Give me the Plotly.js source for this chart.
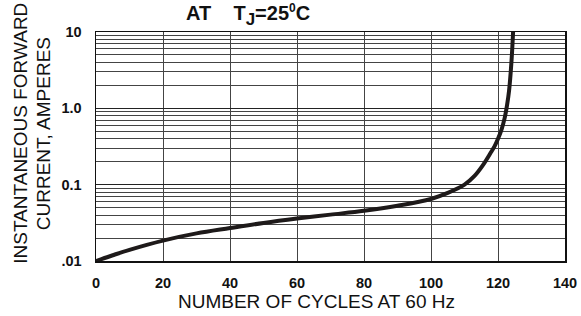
<!DOCTYPE html>
<html>
<head>
<meta charset="utf-8">
<script src="https://cdn.plot.ly/plotly-3.0.1.min.js"></script>
<style>html,body{margin:0;padding:0;background:#fff;}#chart{width:581px;height:316px;}</style>
</head>
<body>
<div id="chart"></div>
<script>
// Data
var cycles  = [0, 5, 10, 20, 30, 40, 50, 60, 70, 80, 90, 100, 105, 110, 113, 115.5, 118, 119, 120, 121, 122, 122.7, 123.3, 123.8, 124.2, 124.5];
var current = [0.01, 0.0119, 0.014, 0.0185, 0.023, 0.027, 0.0315, 0.036, 0.0405, 0.0455, 0.053, 0.065, 0.078, 0.1, 0.13, 0.18, 0.27, 0.32, 0.4, 0.52, 0.75, 1.1, 1.7, 3.0, 5.5, 10];

var xTickVals = [0, 20, 40, 60, 80, 100, 120, 140];
var yTickVals = [0.01, 0.1, 1, 10];
var yTickText = [".01", "0.1", "1.0", "10"];
var yMinorVals = [0.02,0.03,0.04,0.05,0.06,0.07,0.08,0.09,0.2,0.3,0.4,0.5,0.6,0.7,0.8,0.9,2,3,4,5,6,7,8,9];

var titleText = "AT&nbsp;&nbsp;&nbsp;&nbsp;T<sub><span style=\"font-size:17px\">J</span></sub>=25<sup><span style=\"font-size:12px\">0</span></sup>C";
var xTitle = "NUMBER OF CYCLES AT 60 Hz";
var yTitle1 = "INSTANTANEOUS FORWARD";
var yTitle2 = "CURRENT, AMPERES";

var FONT = "Liberation Sans, Arial, sans-serif";

var trace = {
  x: cycles, y: current, type: "scatter", mode: "lines",
  line: {color: "#1e1a1a", width: 4, shape: "spline", smoothing: 1},
  hoverinfo: "skip"
};

var layout = {
  width: 581, height: 316,
  margin: {l: 95.5, r: 16, t: 31.7, b: 55, pad: 0},
  paper_bgcolor: "#fff", plot_bgcolor: "#fff",
  showlegend: false,
  xaxis: {
    range: [0, 140], tickmode: "array", tickvals: xTickVals,
    showgrid: true, gridcolor: "#444", gridwidth: 1,
    zeroline: false, showline: true, mirror: true, linecolor: "#111", linewidth: 1.5,
    ticks: "", ticklabelstandoff: 8,
    tickfont: {family: FONT, size: 14.5, color: "#111", weight: "bold"}
  },
  yaxis: {
    type: "log", range: [-2, 1], tickmode: "array", tickvals: yTickVals, ticktext: yTickText,
    showgrid: true, gridcolor: "#222", gridwidth: 1,
    minor: {tickmode: "array", tickvals: yMinorVals, showgrid: true, gridcolor: "#444", gridwidth: 1, ticks: ""},
    zeroline: false, showline: true, mirror: true, linecolor: "#111", linewidth: 1.5,
    ticks: "", ticklabelstandoff: 10,
    tickfont: {family: FONT, size: 14.5, color: "#111", weight: "bold"}
  },
  annotations: [
    {text: titleText, xref: "paper", yref: "paper", x: (248-95.5)/469.5, y: 1 + (31.7-14.5)/229.3,
     xanchor: "center", yanchor: "middle", showarrow: false,
     font: {family: FONT, size: 20, color: "#111", weight: "bold"}},
    {text: xTitle, xref: "paper", yref: "paper", x: (316-95.5)/469.5, y: -(301.5-261)/229.3,
     xanchor: "center", yanchor: "middle", showarrow: false,
     font: {family: FONT, size: 19, color: "#111"}},
    {text: yTitle1, xref: "paper", yref: "paper", x: -(95.5-20)/469.5, y: (261-133)/229.3,
     xanchor: "center", yanchor: "middle", showarrow: false, textangle: -90,
     font: {family: FONT, size: 19, color: "#111"}},
    {text: yTitle2, xref: "paper", yref: "paper", x: -(95.5-42.5)/469.5, y: (261-134)/229.3,
     xanchor: "center", yanchor: "middle", showarrow: false, textangle: -90,
     font: {family: FONT, size: 19, color: "#111"}}
  ]
};

Plotly.newPlot("chart", [trace], layout, {staticPlot: true, displayModeBar: false});
</script>
</body>
</html>
